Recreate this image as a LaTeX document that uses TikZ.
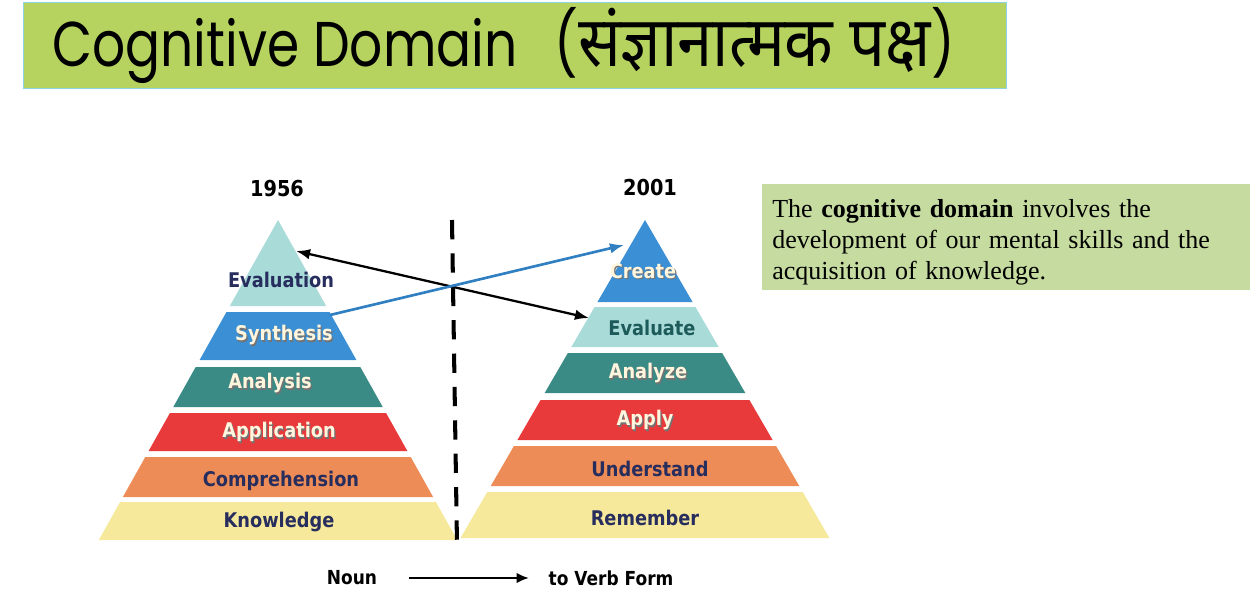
\documentclass[tikz,border=0pt]{standalone}
\usepackage{fontspec}
\setmainfont{Liberation Serif}
\newfontfamily\titlefont[FakeStretch=0.82]{Poppins}
\newfontfamily\devafont[Script=Devanagari,FakeStretch=0.9]{Noto Sans}
\newfontfamily\labelfont[FakeStretch=0.88]{DejaVu Sans}
\usepackage{xcolor}
\usetikzlibrary{arrows.meta,positioning,calc}

\definecolor{titlegreen}{HTML}{B6D35F}
\definecolor{titleedge}{HTML}{8FD3E3}
\definecolor{notegreen}{HTML}{C6DBA0}
\definecolor{paleteal}{HTML}{A9DBD9}
\definecolor{midblue}{HTML}{3B8FD5}
\definecolor{darkteal}{HTML}{3A8A86}
\definecolor{brightred}{HTML}{E8393B}
\definecolor{softorange}{HTML}{EE8C57}
\definecolor{paleyellow}{HTML}{F6E99C}
\definecolor{navytext}{HTML}{272E5E}
\definecolor{tealtext}{HTML}{1D5B5B}
\definecolor{creamtext}{HTML}{FFF6DD}
\definecolor{linkblue}{HTML}{2F7FC1}

% cream labels carry a soft dark shadow
\newcommand{\shadowed}[1]{\rlap{\hspace{0.7pt}\raisebox{-0.7pt}{\textcolor{black!55}{#1}}}#1}

\begin{document}
\begin{tikzpicture}[x=0.02cm,y=-0.02cm,every node/.style={inner sep=0pt},
  tier/.style={font=\labelfont\bfseries\fontsize{11.5}{13}\selectfont},
  year/.style={font=\labelfont\bfseries\fontsize{12.5}{14}\selectfont},
  foot/.style={font=\labelfont\bfseries\fontsize{11}{13}\selectfont}]
  \useasboundingbox (0,0) rectangle (1254,592);

  % title bar
  \node[draw=titleedge,fill=titlegreen,line width=0.8pt,anchor=north west,
        minimum width=19.66cm,minimum height=1.72cm] (titlebar) at (23,2) {};
  \node[anchor=base west,font=\titlefont\fontsize{36}{40}\selectfont] (titletext) at (52,66)
       {Cognitive Domain\hspace{21pt}({\devafont\fontsize{40}{44}\selectfont संज्ञानात्मक पक्ष})};

  % 1956 pyramid
  \node[year] (old) at (277,189) {1956};
  \foreach \t/\b/\c/\nm/\txt/\tc/\lx/\ly in {
      220/306/paleteal/eval/Evaluation/navytext/281/280,
      312/360/midblue/synth/\shadowed{Synthesis}/creamtext/284/336,
      367/407/darkteal/anal/\shadowed{Analysis}/creamtext/270/384,
      413/451/brightred/appl/\shadowed{Application}/creamtext/279/433,
      457/497/softorange/comp/Comprehension/navytext/281/481,
      502/540/paleyellow/know/Knowledge/navytext/279/522}{
    \fill[\c] ({278-0.56*(\t-220)},\t) -- ({278+0.56*(\t-220)},\t)
           -- ({278+0.56*(\b-220)},\b) -- ({278-0.56*(\b-220)},\b) -- cycle;
    \node[tier,text=\tc] (old-\nm) at (\lx,\ly) {\txt};
  }

  % 2001 pyramid
  \node[year] (new) at (650,188) {2001};
  \foreach \t/\b/\c/\nm/\txt/\tc/\lx/\ly in {
      220/302/midblue/create/\shadowed{Create}/creamtext/643/272,
      307/347/paleteal/evalu/Evaluate/tealtext/652/328,
      353/393/darkteal/analy/\shadowed{Analyze}/creamtext/648/374,
      400/440/brightred/apply/\shadowed{Apply}/creamtext/645/421,
      446/486/softorange/under/Understand/navytext/650/469,
      492/538/paleyellow/remem/Remember/navytext/645/518}{
    \fill[\c] ({645-0.58*(\t-220)},\t) -- ({645+0.58*(\t-220)},\t)
           -- ({645+0.58*(\b-220)},\b) -- ({645-0.58*(\b-220)},\b) -- cycle;
    \node[tier,text=\tc] (new-\nm) at (\lx,\ly) {\txt};
  }

  % divider
  \coordinate (divtop) at (452,220);
  \coordinate (divbot) at (457,545);
  \draw[line width=2.3pt,dash pattern=on 11pt off 8pt] (divtop) -- (divbot);

  % links between the two versions
  \coordinate (evalend) at (296,251);
  \coordinate (evaluend) at (589,318);
  \coordinate (synthend) at (330,315);
  \coordinate (createend) at (624,245);
  \draw[line width=1.3pt,{Latex[length=8pt,width=6pt]}-{Latex[length=8pt,width=6pt]}] (evalend) -- (evaluend);
  \draw[linkblue,line width=1.5pt,-{Latex[length=8pt,width=6pt]}] (synthend) -- (createend);

  % note
  \node[fill=notegreen,anchor=north west,minimum width=9.76cm,minimum height=2.12cm,
        text width=9.36cm,align=left,inner xsep=0.2cm,
        font=\fontsize{14.8}{17.6}\selectfont] (note) at (762,184)
       {\rule{0pt}{16pt}The \textbf{cognitive domain} involves the\\
        development of our mental skills and the\\
        acquisition of knowledge.};

  % noun to verb
  \node[foot] (noun) at (352,578) {Noun};
  \node[foot] (verb) at (611,578) {to Verb Form};
  \draw[line width=1.6pt,-{Latex[length=7pt,width=6pt]},shorten <=18pt,shorten >=11pt] (noun) -- (verb);
\end{tikzpicture}
\end{document}
